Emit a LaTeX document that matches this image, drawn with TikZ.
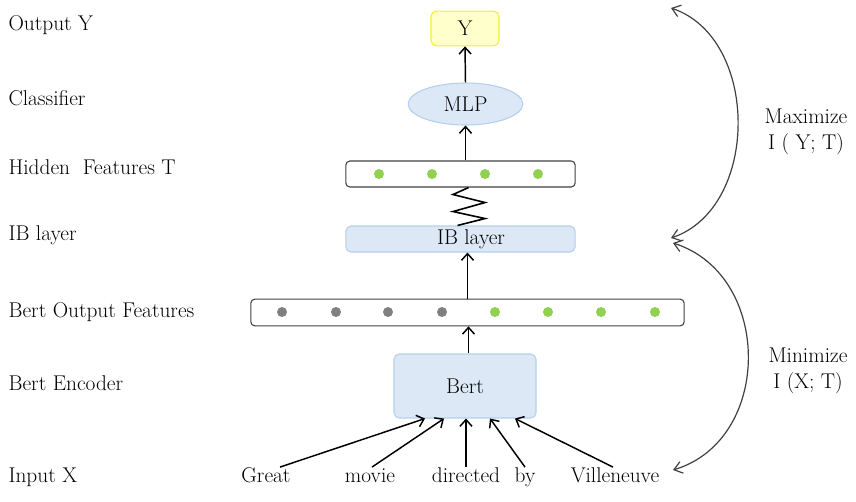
\documentclass[tikz,border=0pt]{standalone}
\usepackage{fontspec}
\usepackage{tikz}
\usetikzlibrary{arrows.meta}
\usetikzlibrary{calc}
\usetikzlibrary{shapes.geometric}

\definecolor{boxblue}{HTML}{DCE8F5}
\definecolor{lineblue}{HTML}{B4D0EA}
\definecolor{boxyellow}{HTML}{FFFFCC}
\definecolor{lineyellow}{HTML}{F5EB3C}
\definecolor{dotgreen}{HTML}{92D050}
\definecolor{dotgray}{HTML}{808080}
\definecolor{darkline}{HTML}{404040}

\begin{document}
\begin{tikzpicture}[
    x=0.75pt, y=-0.75pt, % pixel grid, y going down
    every node/.style={
        font=\fontsize{16}{20}\selectfont, % same size for all texts
        inner sep=1pt
    },
    rowlabel/.style={anchor=base west}, % labels on the left
    bluebox/.style={
        draw=lineblue, fill=boxblue, rounded corners=4pt, thick
    },
    featbox/.style={
        draw=darkline, fill=white, rounded corners=3pt, thick,
        minimum height=19.5pt
    },
    word/.style={anchor=base, text height=10pt, text depth=2.5pt},
    arr/.style={-{Straight Barb[length=5pt,width=9pt]}, line width=1.1pt},
    infoarr/.style={
        {Straight Barb[length=6pt,width=9pt]}-{Straight Barb[length=6pt,width=9pt]},
        draw=darkline, line width=0.9pt
    }
]
\useasboundingbox (0,0) rectangle (856,501);

% labels on the left
\node[rowlabel] (lout) at (7,30) {Output Y};
\node[rowlabel] (lcls) at (7,105) {Classifier};
\node[rowlabel] (lhid) at (7,174) {Hidden\ \ Features T};
\node[rowlabel] (lib) at (7,240) {IB layer};
\node[rowlabel] (lbout) at (7,317) {Bert Output Features};
\node[rowlabel] (lenc) at (7,390) {Bert Encoder};
\node[rowlabel] (lin) at (7,482) {Input X};

% the network
\node[draw=lineyellow, fill=boxyellow, rounded corners=4pt, thick,
      minimum width=51pt, minimum height=26pt] (y) at (465,28.5) {Y};
\node[ellipse, draw=lineblue, fill=boxblue, thick,
      minimum width=86pt, minimum height=31.5pt] (mlp) at (465.5,104) {MLP};
\node[featbox, minimum width=172pt] (hid) at (460.5,174) {};
\node[bluebox, minimum width=172pt, minimum height=19.5pt] (ib) at (460.5,239) {};
\node (ibtext) at (471,239) {IB layer};
\node[featbox, minimum width=325pt, minimum height=20pt] (bout) at (467.5,312.5) {};
\node[bluebox, minimum width=106.5pt, minimum height=48pt] (bert) at (465,386) {Bert};

% feature dots
\foreach \x in {379,432,485,538}
    \fill[dotgreen] (\x,174) circle (5);
\foreach \x in {282,336,388,442}
    \fill[dotgray] (\x,312) circle (5);
\foreach \x in {495,548,601,655}
    \fill[dotgreen] (\x,312) circle (5);

% input words
\node[word] (great) at (266,482) {Great};
\node[word] (movie) at (370,482) {movie};
\node[word] (directed) at (466,482) {directed};
\node[word] (by) at (525,482) {by};
\node[word] (villeneuve) at (615,482) {Villeneuve};

% connectors
\draw[arr] (mlp.north) -- (y.south);
\draw[arr] (mlp.south |- hid.north) -- (mlp.south);
\draw[line width=1.2pt] ($(hid.south)+(8,0)$) -- ++(-15.5,7) -- ++(32,8)
    -- ++(-32,9) -- ++(32,7) -- ($(ib.north)+(-3,0)$);
\draw[arr] (bout.north) -- (bout.north |- ib.south);
\draw[arr] ($(bert.north)+(3.5,0)$) -- ($(bout.south)+(1,0)$);
\foreach \w/\dx/\ex in {great/14/-40, movie/2/-21, directed/0/1, by/0/25, villeneuve/-2/50}
    \draw[arr] ($(\w.north)+(\dx,0)$) -- ($(bert.south)+(\ex,0)$);

% mutual information
\coordinate (top) at (671,8);
\coordinate (mid1) at (671,238);
\coordinate (mid2) at (673,243);
\coordinate (bot) at (673,470);
\draw[infoarr] (top) .. controls (760,38) and (760,208) .. (mid1);
\draw[infoarr] (mid2) .. controls (773,275) and (773,440) .. (bot);
\node[align=center] (maxlbl) at (806,132) {Maximize\\I ( Y; T)};
\node[align=center] (minlbl) at (808,371) {Minimize\\I (X; T)};
\end{tikzpicture}
\end{document}
